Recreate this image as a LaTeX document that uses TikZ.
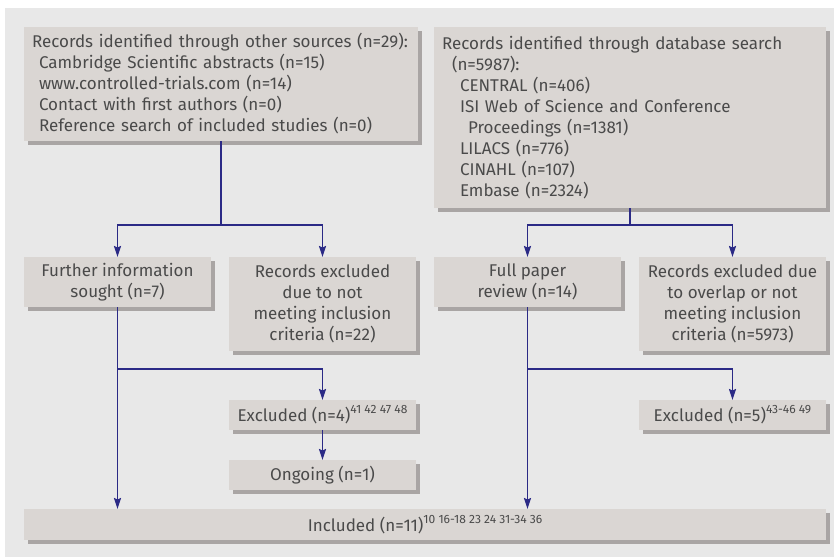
\documentclass[tikz,border=0pt]{standalone}
\usepackage{fontspec}
\setmainfont{Fira Sans}
\usetikzlibrary{positioning,arrows.meta,shadows,calc}
\definecolor{bggrey}{HTML}{E8E8E8}
\definecolor{boxgrey}{HTML}{DAD6D3}
\definecolor{shgrey}{HTML}{A9A5A4}
\definecolor{txtgrey}{HTML}{4A4A4A}
\definecolor{navy}{HTML}{2B2A86}
\newcommand{\refs}[1]{\raisebox{8pt}{\fontsize{12}{12}\selectfont #1}}

\begin{document}
\begin{tikzpicture}[
  base/.style={fill=boxgrey, text=txtgrey, outer sep=0pt, inner ysep=0pt,
    font=\fontsize{17}{21}\selectfont,
    drop shadow={shadow xshift=3.5pt, shadow yshift=-3.5pt, fill=shgrey, opacity=1}},
  srcbox/.style={base, inner xsep=8pt, align=left},
  box/.style={base, minimum width=187pt, align=center},
  xbox/.style={base, minimum width=187pt, minimum height=30pt},
  link/.style={draw=navy, line width=1.6pt},
  arr/.style={link, -{Stealth[length=11pt, width=7pt, inset=1.5pt]}}]
  \useasboundingbox[fill=white] (0,0) rectangle (834pt,-557pt);
  \fill[bggrey] (5pt,-8pt) rectangle (834pt,-557pt);

  % sources
  \node[srcbox, text width=378pt, minimum height=114pt, anchor=north west] (src) at (24pt,-27pt)
    {Records identified through other sources (n=29):\\
     \hspace*{7pt}Cambridge Scientific abstracts (n=15)\\
     \hspace*{7pt}www.controlled-trials.com (n=14)\\
     \hspace*{7pt}Contact with first authors (n=0)\\
     \hspace*{7pt}Reference search of included studies (n=0)};
  \node[srcbox, text width=376pt, minimum height=181pt, right=16pt of src.north east, anchor=north west] (db)
    {Records identified through database search\\
     \hspace*{10pt}(n=5987):\\
     \hspace*{18pt}CENTRAL (n=406)\\
     \hspace*{18pt}ISI Web of Science and Conference\\
     \hspace*{26pt}Proceedings (n=1381)\\
     \hspace*{18pt}LILACS (n=776)\\
     \hspace*{18pt}CINAHL (n=107)\\
     \hspace*{18pt}Embase (n=2324)};

  % screening
  \node[box, minimum height=50pt, below=116pt of src.south west, anchor=north west] (further)
    {Further information\\sought (n=7)};
  \node[box, minimum height=94pt, right=18pt of further.north east, anchor=north west] (exclA)
    {Records excluded\\due to not\\meeting inclusion\\criteria (n=22)};
  \node[box, minimum height=50pt, below=49pt of db.south west, anchor=north west] (fullpaper)
    {Full paper\\review (n=14)};
  \node[box, minimum height=94pt, right=18pt of fullpaper.north east, anchor=north west] (exclB)
    {Records excluded due\\to overlap or not\\meeting inclusion\\criteria (n=5973)};

  % outcome
  \node[xbox, below=49pt of exclA.south west, anchor=north west] (excl4)
    {Excluded (n=4)\refs{41 42 47 48}};
  \node[xbox, below=30pt of excl4] (ongoing) {Ongoing (n=1)};
  \node[xbox, below=49pt of exclB.south west, anchor=north west] (excl5)
    {Excluded (n=5)\refs{43-46 49}};
  \node[base, minimum width=802pt, minimum height=31pt, below=202pt of further.south west, anchor=north west] (incl)
    {Included (n=11)\refs{10 16-18 23 24 31-34 36}};

  % connectors
  \coordinate (srcsplit) at ($(src.south)+(0,-84pt)$);
  \coordinate (dbsplit) at ($(db.south)+(0,-17pt)$);
  \coordinate (furthersplit) at ($(further.south)+(0,-62pt)$);
  \coordinate (fullsplit) at ($(fullpaper.south)+(0,-62pt)$);
  \draw[link] (src.south) -- (srcsplit);
  \draw[arr] (srcsplit) -| (further.north);
  \draw[arr] (srcsplit) -| (exclA.north);
  \draw[link] (db.south) -- (dbsplit);
  \draw[arr] (dbsplit) -| (fullpaper.north);
  \draw[arr] (dbsplit) -| (exclB.north);
  \draw[arr] (furthersplit) -| (excl4.north);
  \draw[arr] (fullsplit) -| (excl5.north);
  \draw[arr] (further.south) -- (further.south |- incl.north);
  \draw[arr] (fullpaper.south) -- (fullpaper.south |- incl.north);
  \draw[arr] (excl4) -- (ongoing);
\end{tikzpicture}
\end{document}
